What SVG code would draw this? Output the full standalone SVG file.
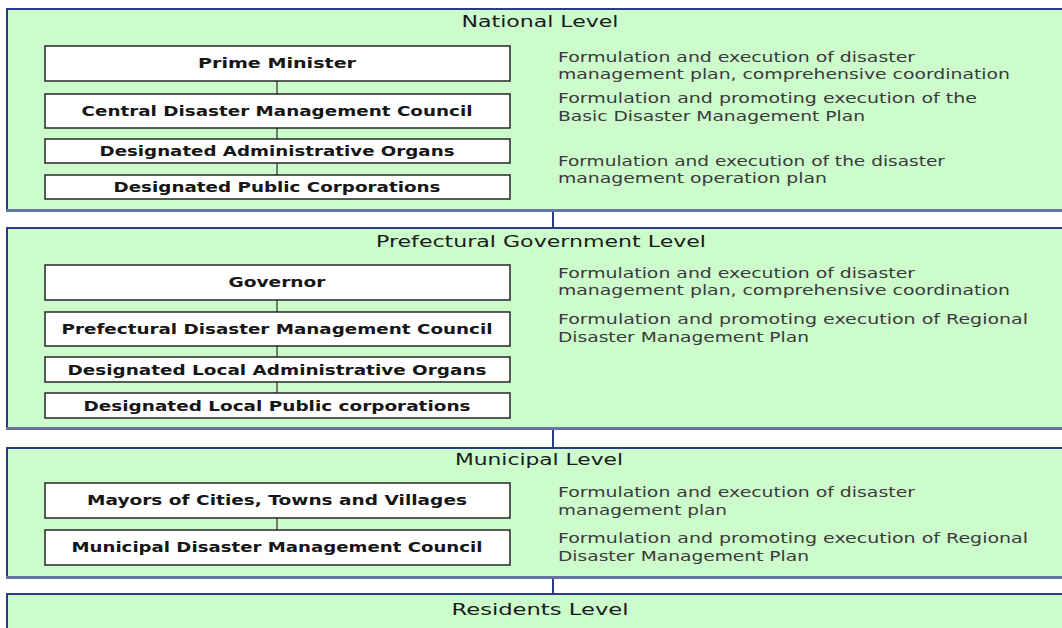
<svg xmlns="http://www.w3.org/2000/svg" width="1062" height="628" viewBox="0 0 1062 628">
<style>
.panel{fill:#ccfccc;stroke:none}
.edge{fill:none;stroke:#2d3a86;stroke-width:2}
.shade{fill:none;stroke:#6675a2;stroke-width:3}
.box{fill:#ffffff;stroke:#262626;stroke-width:1.5}
.title{font-family:"DejaVu Sans",Verdana,sans-serif;font-size:16px;fill:#1a1a1a;text-anchor:middle}
.lbl{font-family:"DejaVu Sans",Verdana,sans-serif;font-size:14px;font-weight:bold;fill:#161616;text-anchor:middle}
.desc{font-family:"DejaVu Sans",Verdana,sans-serif;font-size:13.5px;fill:#3a3a3a}
.link{stroke:#2a2a2a;stroke-width:1.2;fill:none}
.plink{stroke:#2b3a8a;stroke-width:2;fill:none}
</style>
<rect width="1062" height="628" fill="#ffffff"/>

<g id="connectors">
<line class="plink" x1="553" y1="211" x2="553" y2="228"/>
<line class="plink" x1="553" y1="429" x2="553" y2="448"/>
<line class="plink" x1="553" y1="578" x2="553" y2="594"/>
</g>

<g id="national-level">
<rect class="panel" x="7" y="9" width="1064" height="201"/>
<path class="edge" d="M7,210 V9 H1070"/>
<line class="shade" x1="6" y1="210.5" x2="1070" y2="210.5"/>
<text class="title" x="540" y="27" textLength="157" lengthAdjust="spacingAndGlyphs">National Level</text>
<text class="desc" x="558" y="62" textLength="357" lengthAdjust="spacingAndGlyphs">Formulation and execution of disaster</text>
<text class="desc" x="558" y="79" textLength="452" lengthAdjust="spacingAndGlyphs">management plan, comprehensive coordination</text>
<text class="desc" x="558" y="103" textLength="419" lengthAdjust="spacingAndGlyphs">Formulation and promoting execution of the</text>
<text class="desc" x="558" y="121" textLength="307" lengthAdjust="spacingAndGlyphs">Basic Disaster Management Plan</text>
<text class="desc" x="558" y="166" textLength="387" lengthAdjust="spacingAndGlyphs">Formulation and execution of the disaster</text>
<text class="desc" x="558" y="183" textLength="269" lengthAdjust="spacingAndGlyphs">management operation plan</text>
</g>
<g id="national-links">
<line class="link" x1="277" y1="81" x2="277" y2="94"/>
<line class="link" x1="277" y1="128" x2="277" y2="139"/>
<line class="link" x1="277" y1="163" x2="277" y2="175"/>
</g>
<g id="prime-minister">
<rect class="box" x="45" y="46" width="465" height="35"/>
<text class="lbl" x="277" y="68" textLength="158" lengthAdjust="spacingAndGlyphs">Prime Minister</text>
</g>
<g id="central-council">
<rect class="box" x="45" y="94" width="465" height="34"/>
<text class="lbl" x="277" y="116" textLength="391" lengthAdjust="spacingAndGlyphs">Central Disaster Management Council</text>
</g>
<g id="designated-admin">
<rect class="box" x="45" y="139" width="465" height="24"/>
<text class="lbl" x="277" y="156" textLength="355" lengthAdjust="spacingAndGlyphs">Designated Administrative Organs</text>
</g>
<g id="designated-public">
<rect class="box" x="45" y="175" width="465" height="24"/>
<text class="lbl" x="277" y="192" textLength="327" lengthAdjust="spacingAndGlyphs">Designated Public Corporations</text>
</g>

<g id="prefectural-level">
<rect class="panel" x="7" y="228" width="1064" height="200"/>
<path class="edge" d="M7,428 V228 H1070"/>
<line class="shade" x1="6" y1="428.5" x2="1070" y2="428.5"/>
<text class="title" x="541" y="247" textLength="330" lengthAdjust="spacingAndGlyphs">Prefectural Government Level</text>
<text class="desc" x="558" y="278" textLength="357" lengthAdjust="spacingAndGlyphs">Formulation and execution of disaster</text>
<text class="desc" x="558" y="295" textLength="452" lengthAdjust="spacingAndGlyphs">management plan, comprehensive coordination</text>
<text class="desc" x="558" y="324" textLength="470" lengthAdjust="spacingAndGlyphs">Formulation and promoting execution of Regional</text>
<text class="desc" x="558" y="342" textLength="251" lengthAdjust="spacingAndGlyphs">Disaster Management Plan</text>
</g>
<g id="prefectural-links">
<line class="link" x1="277" y1="300" x2="277" y2="312"/>
<line class="link" x1="277" y1="346" x2="277" y2="357"/>
<line class="link" x1="277" y1="382" x2="277" y2="393"/>
</g>
<g id="governor">
<rect class="box" x="45" y="265" width="465" height="35"/>
<text class="lbl" x="277" y="287" textLength="97" lengthAdjust="spacingAndGlyphs">Governor</text>
</g>
<g id="prefectural-council">
<rect class="box" x="45" y="312" width="465" height="34"/>
<text class="lbl" x="277" y="334" textLength="431" lengthAdjust="spacingAndGlyphs">Prefectural Disaster Management Council</text>
</g>
<g id="local-admin">
<rect class="box" x="45" y="357" width="465" height="25"/>
<text class="lbl" x="277" y="375" textLength="419" lengthAdjust="spacingAndGlyphs">Designated Local Administrative Organs</text>
</g>
<g id="local-public">
<rect class="box" x="45" y="393" width="465" height="25"/>
<text class="lbl" x="277" y="411" textLength="387" lengthAdjust="spacingAndGlyphs">Designated Local Public corporations</text>
</g>

<g id="municipal-level">
<rect class="panel" x="7" y="448" width="1064" height="129"/>
<path class="edge" d="M7,577 V448 H1070"/>
<line class="shade" x1="6" y1="577.5" x2="1070" y2="577.5"/>
<text class="title" x="539" y="465" textLength="168" lengthAdjust="spacingAndGlyphs">Municipal Level</text>
<text class="desc" x="558" y="497" textLength="357" lengthAdjust="spacingAndGlyphs">Formulation and execution of disaster</text>
<text class="desc" x="558" y="515" textLength="169" lengthAdjust="spacingAndGlyphs">management plan</text>
<text class="desc" x="558" y="543" textLength="470" lengthAdjust="spacingAndGlyphs">Formulation and promoting execution of Regional</text>
<text class="desc" x="558" y="561" textLength="251" lengthAdjust="spacingAndGlyphs">Disaster Management Plan</text>
</g>
<g id="municipal-links">
<line class="link" x1="277" y1="518" x2="277" y2="530"/>
</g>
<g id="mayors">
<rect class="box" x="45" y="483" width="465" height="35"/>
<text class="lbl" x="277" y="505" textLength="380" lengthAdjust="spacingAndGlyphs">Mayors of Cities, Towns and Villages</text>
</g>
<g id="municipal-council">
<rect class="box" x="45" y="530" width="465" height="35"/>
<text class="lbl" x="277" y="552" textLength="411" lengthAdjust="spacingAndGlyphs">Municipal Disaster Management Council</text>
</g>

<g id="residents-level">
<rect class="panel" x="7" y="594" width="1064" height="60"/>
<path class="edge" d="M7,640 V594 H1070"/>
<text class="title" x="540" y="615" textLength="177" lengthAdjust="spacingAndGlyphs">Residents Level</text>
</g>
</svg>
